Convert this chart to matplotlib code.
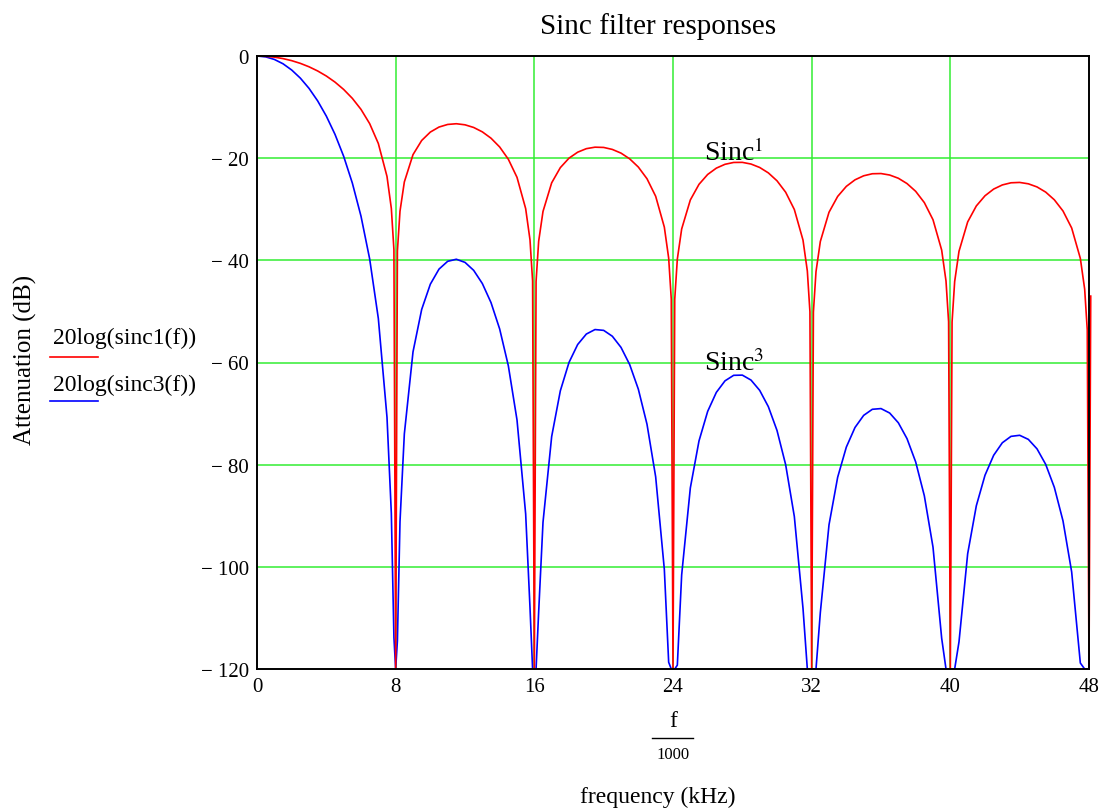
import matplotlib.pyplot as plt
from matplotlib.lines import Line2D

plt.rcParams['font.family'] = ['Liberation Serif', 'DejaVu Serif']
plt.rcParams['mathtext.fontset'] = 'stix'

# frequency in kHz (f/1000)
freq = [0, 0.5, 1, 1.5, 2, 2.5, 3, 3.5, 4, 4.5, 5, 5.5, 6, 6.5, 7, 7.5, 7.75, 7.9,
        8, 8.1, 8.25, 8.5, 9, 9.5, 10, 10.5, 11, 11.5, 12, 12.5, 13, 13.5, 14, 14.5,
        15, 15.5, 15.75, 15.9, 16, 16.1, 16.25, 16.5, 17, 17.5, 18, 18.5, 19, 19.5,
        20, 20.5, 21, 21.5, 22, 22.5, 23, 23.5, 23.75, 23.9, 24, 24.1, 24.25, 24.5,
        25, 25.5, 26, 26.5, 27, 27.5, 28, 28.5, 29, 29.5, 30, 30.5, 31, 31.5, 31.75,
        31.9, 32, 32.1, 32.25, 32.5, 33, 33.5, 34, 34.5, 35, 35.5, 36, 36.5, 37, 37.5,
        38, 38.5, 39, 39.5, 39.75, 39.9, 40, 40.1, 40.25, 40.5, 41, 41.5, 42, 42.5,
        43, 43.5, 44, 44.5, 45, 45.5, 46, 46.5, 47, 47.5, 47.75, 47.9, 48, 48.1]

# 20log(sinc1(f)) in dB
sinc1_db = [0, -0.06, -0.22, -0.51, -0.91, -1.44, -2.11, -2.93, -3.92, -5.11, -6.55, -8.29,
            -10.45, -13.24, -17.13, -23.58, -29.84, -37.95,
            -120, -38.17, -30.38, -24.66, -19.31, -16.54, -14.89, -13.91, -13.40, -13.26,
            -13.47, -13.99, -14.85, -16.09, -17.81, -20.21,
            -23.75, -29.88, -36.00, -44.03, -120, -44.14, -36.27, -30.43, -24.83, -21.85,
            -20.00, -18.83, -18.14, -17.85,
            -17.90, -18.29, -19.01, -20.13, -21.74, -24.03, -27.46, -33.50, -39.56, -47.57,
            -120, -47.64, -39.75, -33.86,
            -28.18, -25.12, -23.19, -21.95, -21.20, -20.84, -20.82, -21.15, -21.82, -22.88,
            -24.43, -26.67, -30.05, -36.04, -42.09,
            -50.08, -120, -50.13, -42.22, -36.31, -30.59, -27.49, -25.52, -24.24, -23.45,
            -23.05, -23.01, -23.30, -23.93, -24.97,
            -26.49, -28.70, -32.05, -37.99, -44.04, -52.02, -120, -52.06, -44.15, -38.23,
            -32.48, -29.35, -27.36, -26.05,
            -25.24, -24.82, -24.75, -25.02, -25.63, -26.64, -28.15, -30.34, -33.67, -39.61,
            -45.63, -53.61, -120, -47.0]

# 20log(sinc3(f)) in dB, floor at -120
sinc3_db = [0, -0.17, -0.67, -1.52, -2.74, -4.33, -6.33, -8.79, -11.77, -15.34, -19.64,
            -24.87, -31.36, -39.73, -51.38, -70.73, -89.52, -113.85,
            -120, -114.51, -91.14, -73.99, -57.93, -49.62, -44.67, -41.72, -40.19, -39.79,
            -40.40, -41.96, -44.54, -48.27, -53.44, -60.64,
            -71.24, -89.65, -107.99, -120, -120, -120, -108.81, -91.28, -74.50, -65.54,
            -59.99, -56.48, -54.43, -53.55,
            -53.71, -54.86, -57.04, -60.40, -65.22, -72.09, -82.38, -100.49, -118.68, -120,
            -120, -120, -119.25, -101.58,
            -84.55, -75.35, -69.57, -65.85, -63.59, -62.51, -62.47, -63.44, -65.45, -68.64,
            -73.30, -80.02, -90.15, -108.13, -120,
            -120, -120, -120, -120, -108.94, -91.78, -82.46, -76.56, -72.72, -70.35,
            -69.16, -69.02, -69.89, -71.80, -74.90,
            -79.46, -86.09, -96.14, -113.97, -120, -120, -120, -120, -120, -114.68,
            -97.44, -88.04, -82.07, -78.16,
            -75.71, -74.46, -74.25, -75.05, -76.90, -79.93, -84.44, -91.01, -101.00, -118.83,
            -120, -120, -120, -120]

xticks = [0, 8, 16, 24, 32, 40, 48]
yticks = [0, -20, -40, -60, -80, -100, -120]
ytick_labels = ['0', '\u2212 20', '\u2212 40', '\u2212 60', '\u2212 80', '\u2212 100', '\u2212 120']

W, H = 1109, 812
fig = plt.figure(figsize=(W / 100, H / 100), dpi=100)
ax = fig.add_axes([257 / W, 1 - 670 / H, (1089 - 257) / W, (670 - 57) / H])

grid_color = '#33ee33'
for x in xticks[1:-1]:
    ax.axvline(x, color=grid_color, lw=1.1, zorder=1)
for y in yticks[1:-1]:
    ax.axhline(y, color=grid_color, lw=1.1, zorder=1)

ax.plot(freq, sinc3_db, color='#0000ff', lw=1.2, zorder=3)
ax.plot(freq, sinc1_db, color='#ff0000', lw=1.2, zorder=4, clip_on=False)

ax.set_xlim(0, 48)
ax.set_ylim(-120, 0)
ax.set_xticks(xticks)
ax.set_xticklabels([str(x) for x in xticks])
ax.set_yticks(yticks)
ax.set_yticklabels(ytick_labels)
ax.tick_params(length=0, labelsize=15, pad=6)
for s in ax.spines.values():
    s.set_linewidth(1.4)
    s.set_color('black')
    s.set_zorder(5)

ax.text(25.8, -20.3, 'Sinc$^{1}$', fontsize=20, ha='left', va='baseline')
ax.text(25.8, -61.5, 'Sinc$^{3}$', fontsize=20, ha='left', va='baseline')

fig.text(658 / W, 1 - 27 / H, 'Sinc filter responses', fontsize=21, ha='center', va='center')
fig.text(25 / W, 1 - 360 / H, 'Attenuation (dB)', fontsize=18, rotation=90,
         ha='center', va='center')

fig.text(53 / W, 1 - 338 / H, '20log(sinc1(f))', fontsize=17, ha='left', va='center')
fig.text(53 / W, 1 - 385 / H, '20log(sinc3(f))', fontsize=17, ha='left', va='center')
fig.add_artist(Line2D([50 / W, 98 / W], [1 - 358 / H, 1 - 358 / H], color='#ff0000', lw=1.2))
fig.add_artist(Line2D([50 / W, 98 / W], [1 - 402 / H, 1 - 402 / H], color='#0000ff', lw=1.2))

fig.text(673 / W, 1 - 722 / H, 'f', fontsize=17, ha='center', va='center')
fig.add_artist(Line2D([652 / W, 693 / W], [1 - 739 / H, 1 - 739 / H], color='black', lw=1.0))
fig.text(673 / W, 1 - 755 / H, '1000', fontsize=12, ha='center', va='center')
fig.text(658 / W, 1 - 797 / H, 'frequency (kHz)', fontsize=17, ha='center', va='center')

fig.savefig('out.png', dpi=100)
